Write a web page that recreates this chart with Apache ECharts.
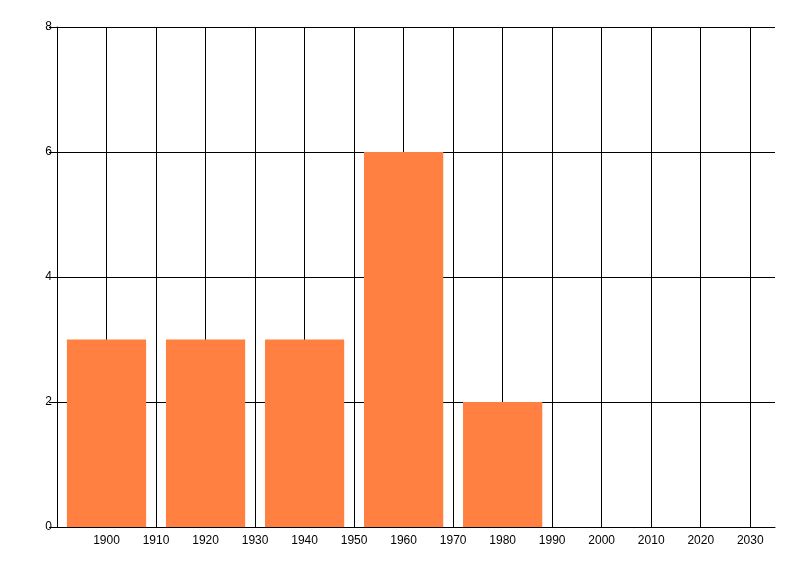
<!DOCTYPE html>
<html>
<head>
<meta charset="utf-8">
<script src="https://cdn.jsdelivr.net/npm/echarts@6/dist/echarts.min.js"></script>
<style>
  html, body { margin: 0; padding: 0; background: #fff; }
  #chart { width: 800px; height: 576px; }
</style>
</head>
<body>
<div id="chart"></div>
<script>
// bin centres (years) and counts
var binCenters = [1900, 1920, 1940, 1960, 1980]
var counts = [3, 3, 3, 6, 2]
var barSpan = 16 // years covered by each bar

var chart = echarts.init(document.getElementById('chart'))

var options = {
  animation: false,
  grid: {
    left: 57,
    right: 25,
    top: 27,
    bottom: 49
  },
  xAxis: {
    type: 'value',
    min: 1890,
    max: 2035,
    interval: 10,
    axisLine: { show: true, onZero: false, lineStyle: { color: '#000', width: 1 } },
    axisTick: { show: false },
    axisLabel: {
      showMinLabel: false,
      showMaxLabel: false,
      formatter: function(v) { return String(v) },
      color: '#000',
      fontFamily: 'Liberation Sans',
      fontSize: 12,
      margin: 8
    },
    splitLine: { show: true, showMaxLine: false, lineStyle: { color: '#000', width: 1 } }
  },
  yAxis: {
    type: 'value',
    min: 0,
    max: 8,
    interval: 2,
    axisLine: { show: true, lineStyle: { color: '#000', width: 1 } },
    axisTick: { show: true, length: 8, lineStyle: { color: '#000' } },
    axisLabel: {
      color: '#000',
      fontFamily: 'Liberation Sans',
      fontSize: 12,
      margin: 5
    },
    splitLine: { show: true, lineStyle: { color: '#000', width: 1 } }
  },
  series: [{
    type: 'custom',
    data: binCenters.map(function(c, i) { return [c, counts[i]] }),
    renderItem: function(params, api) {
      var x = api.value(0)
      var y = api.value(1)
      var p0 = api.coord([x - barSpan / 2, y])
      var p1 = api.coord([x + barSpan / 2, 0])
      return {
        type: 'rect',
        shape: { x: p0[0], y: p0[1], width: p1[0] - p0[0], height: p1[1] - p0[1] },
        style: { fill: '#ff8040' }
      }
    }
  }]
}

chart.setOption(options)
</script>
</body>
</html>
